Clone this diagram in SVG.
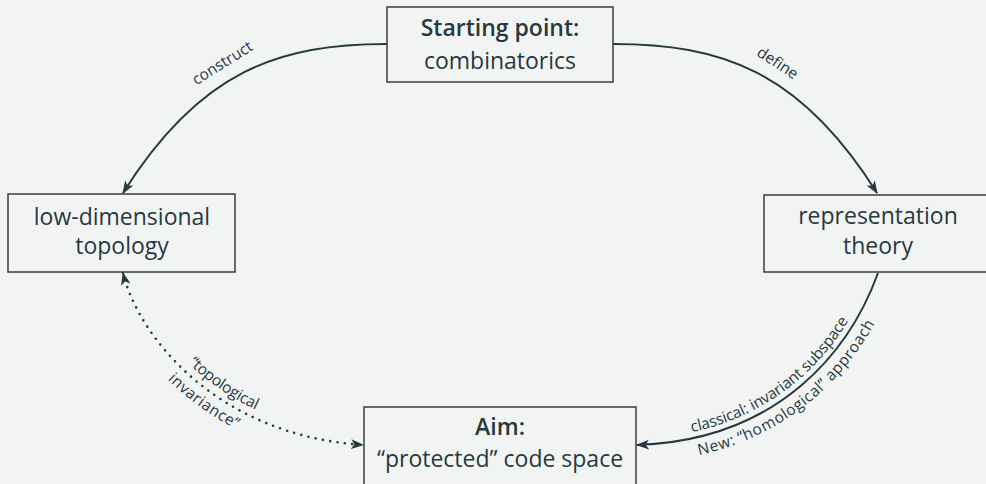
<svg xmlns="http://www.w3.org/2000/svg" xmlns:xlink="http://www.w3.org/1999/xlink" width="986" height="484" viewBox="0 0 986 484">
  <defs>
    <style>
      .bg { fill: #f2f4f3; }
      .box { fill: #f2f4f3; stroke: #3a3d3e; stroke-width: 1.5; }
      .t { font-family: "Open Sans", "Noto Sans", sans-serif; font-size: 23px; fill: #27393e; text-anchor: middle; }
      .b { font-weight: 600; }
      .lbl { font-family: "Open Sans", "Noto Sans", sans-serif; font-size: 15.5px; fill: #27393e; }
      .edge { fill: none; stroke: #26393e; stroke-width: 2; }
      .dot { fill: none; stroke: #26393e; stroke-width: 2.6; stroke-linecap: round; stroke-dasharray: 0 7.4; }
    </style>
    <marker id="arr" viewBox="0 0 12 10" refX="11" refY="5" markerWidth="13" markerHeight="11" markerUnits="userSpaceOnUse" orient="auto-start-reverse">
      <path d="M0,0.5 L12,5 L0,9.5 L3,5 Z" fill="#26393e"/>
    </marker>
  </defs>
  <rect class="bg" x="0" y="0" width="986" height="484"/>

  <g id="connectors">
    <path id="e1" class="edge" d="M387,44 C280,44 200,70 123,193" marker-end="url(#arr)"/>
    <path id="e2" class="edge" d="M613,44 C720,44 800,70 877,193" marker-end="url(#arr)"/>
    <path id="e3" class="edge" d="M637,445 C780,440 850,350 878,273" marker-start="url(#arr)"/>
    <path id="e4" class="dot" d="M123,273 C138,335 215,435 363,445" marker-start="url(#arr)" marker-end="url(#arr)"/>
    <text class="lbl" text-anchor="middle" transform="translate(223,64) rotate(-32)" y="4">construct</text>
    <text class="lbl" text-anchor="middle" transform="translate(777,64) rotate(33)" y="4">define</text>
    <text class="lbl" text-anchor="middle" dy="-6"><textPath href="#e3" xlink:href="#e3" startOffset="50%">classical: invariant subspace</textPath></text>
    <text class="lbl" text-anchor="middle" dy="18"><textPath href="#e3" xlink:href="#e3" startOffset="52%">New: ‘‘homological’’ approach</textPath></text>
    <text class="lbl" text-anchor="middle" dy="-8"><textPath href="#e4" xlink:href="#e4" startOffset="50%">‘‘topological</textPath></text>
    <text class="lbl" text-anchor="middle" dy="18"><textPath href="#e4" xlink:href="#e4" startOffset="48%">invariance’’</textPath></text>
  </g>

  <g id="start">
    <rect class="box" x="387" y="7" width="226" height="75"/>
    <text class="t b" x="500" y="36">Starting point:</text>
    <text class="t" x="500" y="69">combinatorics</text>
  </g>

  <g id="topology">
    <rect class="box" x="8" y="194" width="227" height="78"/>
    <text class="t" x="122" y="225">low-dimensional</text>
    <text class="t" x="122" y="254">topology</text>
  </g>

  <g id="reptheory">
    <rect class="box" x="764" y="195" width="228" height="77"/>
    <text class="t" x="878" y="224">representation</text>
    <text class="t" x="878" y="254">theory</text>
  </g>

  <g id="aim">
    <rect class="box" x="364" y="407" width="272" height="80"/>
    <text class="t b" x="500" y="435">Aim:</text>
    <text class="t" x="500" y="467">“protected” code space</text>
  </g>
</svg>
